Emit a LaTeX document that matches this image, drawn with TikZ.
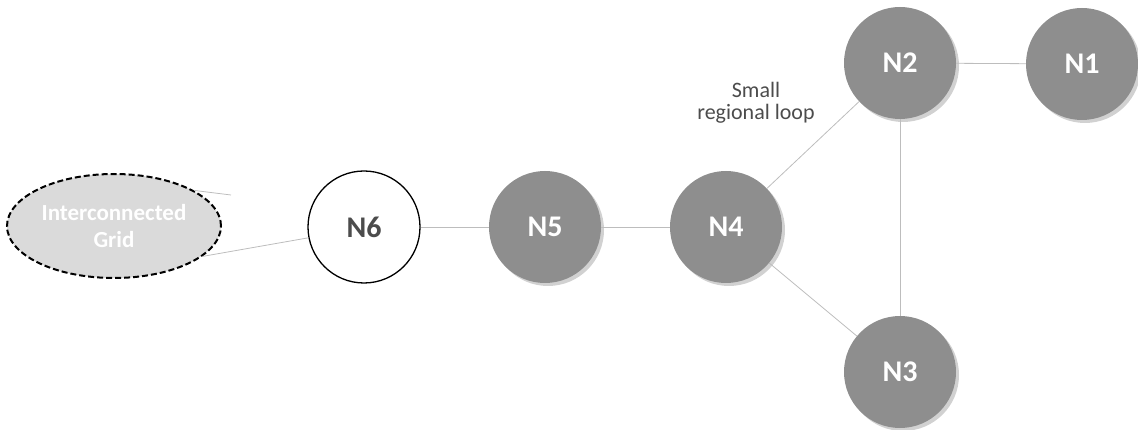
\documentclass[tikz,border=0pt]{standalone}
\usepackage{fontspec}
\setmainfont{Carlito}
\usetikzlibrary{shapes.geometric,shadows}
\definecolor{nodegray}{HTML}{8E8E8E}
\definecolor{edgegray}{HTML}{BDBDBD}
\definecolor{gridfill}{HTML}{DADADA}
\tikzset{
  grnode/.style={circle, fill=nodegray, minimum size=112pt, inner sep=0pt,
    text=white, font=\bfseries\fontsize{30}{34}\selectfont,
    drop shadow={shadow xshift=3pt, shadow yshift=-3pt, fill=black!40, opacity=0.45}},
  whnode/.style={circle, draw=black, line width=1.3pt, fill=white, minimum size=112pt, inner sep=0pt,
    text=black!70, font=\bfseries\fontsize{30}{34}\selectfont},
  gridnode/.style={ellipse, draw=black, line width=2pt, dash pattern=on 6pt off 3pt,
    fill=gridfill, minimum width=214pt, minimum height=104pt, inner sep=0pt,
    text=white, align=center, font=\bfseries\fontsize{23}{27}\selectfont},
  link/.style={draw=edgegray, line width=0.8pt},
  lbl/.style={align=center, text=black!70, font=\fontsize{22}{22}\selectfont}
}
\begin{document}
\begin{tikzpicture}[x=1pt,y=-1pt]
\useasboundingbox (0,0) rectangle (1138,430);
\node[gridnode] (G) at (114,226) {Interconnected\\Grid};
\node[whnode] (N6) at (364,227) {N6};
\node[grnode] (N5) at (545,227) {N5};
\node[grnode] (N4) at (726,227) {N4};
\node[grnode] (N2) at (900,63) {N2};
\node[grnode] (N1) at (1082,64) {N1};
\node[grnode] (N3) at (900,372) {N3};
\node[lbl] (L) at (756,103) {Small\\regional loop};
\coordinate (S) at (231,195);
\draw[link] (G.24) -- (S);
\draw[link] (N6.191) -- (G.341);
\draw[link] (N6) -- (N5);
\draw[link] (N5) -- (N4);
\draw[link] (N4) -- (N2);
\draw[link] (N4) -- (N3);
\draw[link] (N2) -- (N3);
\draw[link] (N2) -- (N1);
\end{tikzpicture}
\end{document}
